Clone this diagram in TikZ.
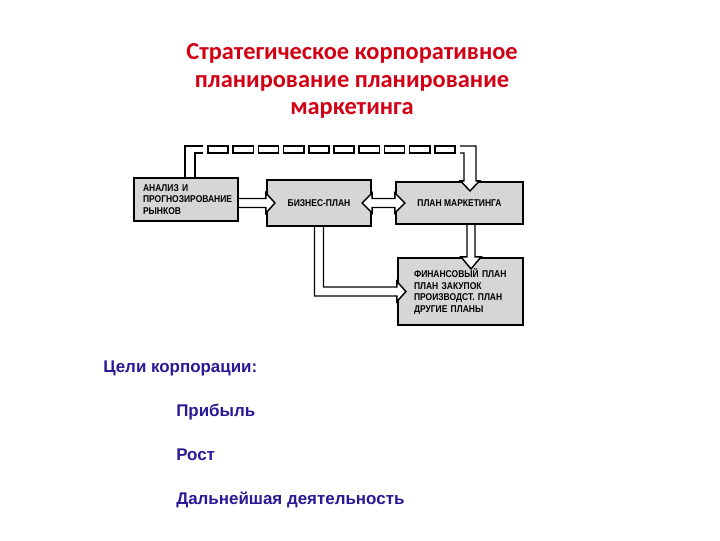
\documentclass[tikz,border=0pt]{standalone}
\usepackage{fontspec}
\setmainfont{Liberation Sans}
\newfontfamily\titlefont{Carlito}
\newfontfamily\boxfont[FakeStretch=0.86]{Liberation Sans}
\usetikzlibrary{calc}
\definecolor{titlered}{RGB}{210,0,20}
\definecolor{goalblue}{RGB}{40,25,150}
\definecolor{boxgray}{RGB}{214,214,214}
\tikzset{
  box/.style={draw=black, line width=1.6pt, fill=boxgray, inner sep=0pt,
    font=\boxfont\bfseries\fontsize{7.4}{8.6}\selectfont},
  pipe/.style={draw=black, line width=1.1pt, line join=miter},
  pipefill/.style={fill=white},
  titletext/.style={text=titlered, align=center, inner sep=0pt,
    font=\titlefont\bfseries\fontsize{18.3}{20.6}\selectfont},
  goal/.style={text=goalblue, inner sep=0pt,
    font=\bfseries\fontsize{12.7}{15}\selectfont}
}
\begin{document}
\begin{tikzpicture}[x=0.75pt,y=-0.75pt]
\useasboundingbox (0,0) rectangle (720,540);
\fill[white] (0,0) rectangle (720,540);

% title
\node[titletext] (T) at (352,81) {Стратегическое корпоративное\\планирование планирование\\маркетинга};

% boxes
\node[box, minimum width=104*0.75pt, minimum height=43*0.75pt,
      inner xsep=6.75pt, text width=64.5pt, align=left] (A) at (186,199.5)
      {АНАЛИЗ И\\ПРОГНОЗИРОВАНИЕ\\РЫНКОВ};
\node[box, minimum width=104*0.75pt, minimum height=46*0.75pt, align=center] (B) at (319,203)
      {БИЗНЕС-ПЛАН};
\node[box, minimum width=127*0.75pt, minimum height=42*0.75pt, align=center] (M) at (459.5,203)
      {ПЛАН МАРКЕТИНГА};
\node[box, minimum width=125*0.75pt, minimum height=67*0.75pt,
      inner xsep=12pt, text width=69.75pt, align=left] (F) at (460.5,291.5)
      {ФИНАНСОВЫЙ ПЛАН\\ПЛАН ЗАКУПОК\\ПРОИЗВОДСТ. ПЛАН\\ДРУГИЕ ПЛАНЫ};

% A -> B
\coordinate (ab0) at (A.east |- B.west);
\fill[pipefill] ($(ab0)+(1,-4.5)$) -- ($(B.west)+(0,-4.5)$) -- ($(B.west)+(0,-10)$)
   -- ($(B.west)+(9,0)$) -- ($(B.west)+(0,10)$) -- ($(B.west)+(0,4.5)$) -- ($(ab0)+(1,4.5)$) -- cycle;
\draw[pipe] ($(ab0)+(0,-4.5)$) -- ($(B.west)+(0,-4.5)$) -- ($(B.west)+(0,-10)$)
   -- ($(B.west)+(9,0)$) -- ($(B.west)+(0,10)$) -- ($(B.west)+(0,4.5)$) -- ($(ab0)+(0,4.5)$);

% B <-> M
\filldraw[pipe, pipefill] ($(B.east)+(0,-10)$) -- ($(B.east)+(-10,0)$) -- ($(B.east)+(0,10)$)
   -- ($(B.east)+(0,4.5)$) -- ($(M.west)+(0,4.5)$) -- ($(M.west)+(0,10)$)
   -- ($(M.west)+(10,0)$) -- ($(M.west)+(0,-10)$) -- ($(M.west)+(0,-4.5)$)
   -- ($(B.east)+(0,-4.5)$) -- cycle;

% B -> F (elbow)
\coordinate (bf) at (B.south |- F.west);
\fill[pipefill] ($(B.south)+(-4.5,1)$) -- ($(bf)+(-4.5,4.5)$) -- ($(F.west)+(0,4.5)$)
   -- ($(F.west)+(0,10)$) -- ($(F.west)+(9,0)$) -- ($(F.west)+(0,-10)$) -- ($(F.west)+(0,-4.5)$)
   -- ($(bf)+(4.5,-4.5)$) -- ($(B.south)+(4.5,1)$) -- cycle;
\draw[pipe] ($(B.south)+(-4.5,0)$) -- ($(bf)+(-4.5,4.5)$) -- ($(F.west)+(0,4.5)$)
   -- ($(F.west)+(0,10)$) -- ($(F.west)+(9,0)$) -- ($(F.west)+(0,-10)$) -- ($(F.west)+(0,-4.5)$)
   -- ($(bf)+(4.5,-4.5)$) -- ($(B.south)+(4.5,0)$);

% M -> F
\coordinate (mf0) at (471,0 |- M.south);
\coordinate (mf1) at (471,0 |- F.north);
\fill[pipefill] ($(mf0)+(-4,1)$) -- ($(mf1)+(-4,0)$) -- ($(mf1)+(-10,0)$) -- ($(mf1)+(0,12)$)
   -- ($(mf1)+(10,0)$) -- ($(mf1)+(4,0)$) -- ($(mf0)+(4,1)$) -- cycle;
\draw[pipe] ($(mf0)+(-4,0)$) -- ($(mf1)+(-4,0)$) -- ($(mf1)+(-10,0)$) -- ($(mf1)+(0,12)$)
   -- ($(mf1)+(10,0)$) -- ($(mf1)+(4,0)$) -- ($(mf0)+(4,0)$);

% feedback loop A -> M (dashed pipe)
\coordinate (la) at (190,0 |- A.north);
\coordinate (rm) at (470,0 |- M.north);
\draw[pipe] ($(la)+(-5,0)$) -- (185,146) -- (203,146);
\draw[pipe] ($(la)+(5,0)$) -- (195,153) -- (203,153);
\foreach \i in {0,...,9}
  \draw[pipe] ({208+\i*25.2},146) rectangle ++(20.2,7);
\fill[pipefill] ($(rm)+(-6,-10)$) -- ($(rm)+(-6,0)$) -- ($(rm)+(-9.5,0)$) -- ($(rm)+(0,10)$)
   -- ($(rm)+(9.5,0)$) -- ($(rm)+(6,0)$) -- ($(rm)+(6,-10)$) -- cycle;
\draw[pipe] (460,146) -- (476,146) -- ($(rm)+(6,0)$) -- ($(rm)+(9.5,0)$) -- ($(rm)+(0,10)$)
   -- ($(rm)+(-9.5,0)$) -- ($(rm)+(-6,0)$) -- (464,153) -- (460,153);

% goals
\node[goal, anchor=base west] (G0) at (103,372) {Цели корпорации:};
\node[goal, anchor=base west] (G1) at (176,416) {Прибыль};
\node[goal, anchor=base west] (G2) at (176,460) {Рост};
\node[goal, anchor=base west] (G3) at (176,504) {Дальнейшая деятельность};
\end{tikzpicture}
\end{document}
